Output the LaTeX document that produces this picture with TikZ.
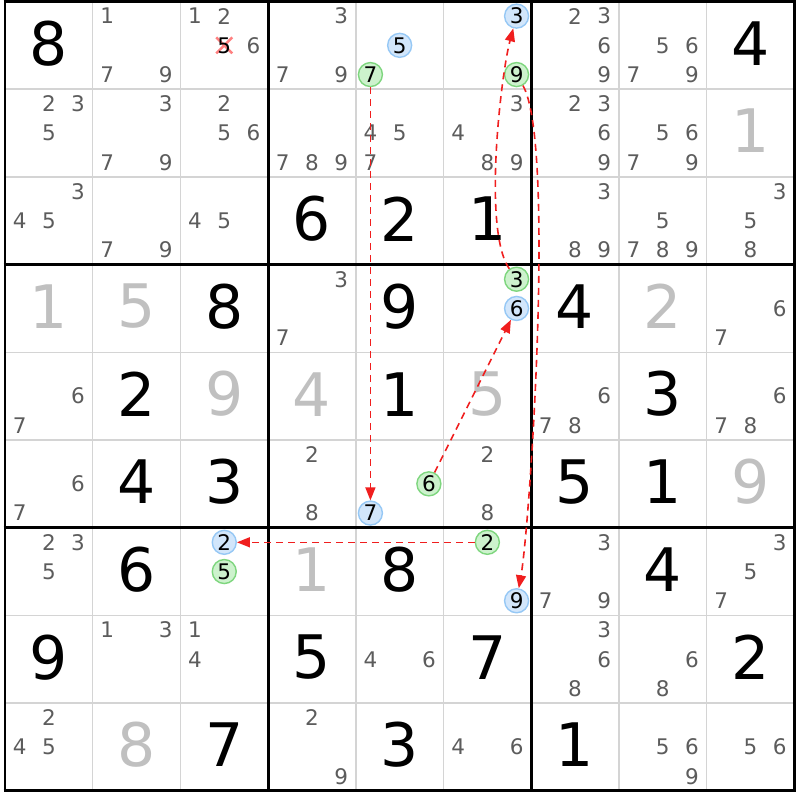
\documentclass[tikz,border=0pt]{standalone}
\usepackage{fontspec}
\setmainfont{DejaVu Sans}
\usetikzlibrary{arrows.meta}
\definecolor{pmgray}{HTML}{5C5C5C}
\definecolor{solvgray}{HTML}{C0C0C0}
\definecolor{thingrid}{HTML}{D4D4D4}
\definecolor{bluefill}{HTML}{D2E6FB}
\definecolor{blueline}{HTML}{96C8F5}
\definecolor{greenfill}{HTML}{CDF2CD}
\definecolor{greenline}{HTML}{7ED67E}
\definecolor{linkred}{HTML}{F01E1E}
\definecolor{xpink}{HTML}{FF8080}
\tikzset{
  givenstyle/.style={inner sep=0pt, text=black, font=\fontsize{60}{62}\selectfont},
  solvedstyle/.style={inner sep=0pt, text=solvgray, font=\fontsize{60}{62}\selectfont},
  pmstyle/.style={inner sep=0pt, text=pmgray, font=\fontsize{21.5}{24}\selectfont},
  bluecand/.style={circle, minimum size=24pt, inner sep=0pt, draw=blueline, fill=bluefill, line width=1.4pt, text=black, font=\fontsize{21.5}{24}\selectfont},
  greencand/.style={circle, minimum size=24pt, inner sep=0pt, draw=greenline, fill=greenfill, line width=1.4pt, text=black, font=\fontsize{21.5}{24}\selectfont},
  linkstyle/.style={draw=linkred, line width=1.6pt, dash pattern=on 7pt off 5pt, -{Triangle[length=13pt,width=10pt]}},
  thinline/.style={draw=thingrid, line width=1.4pt},
  thickline/.style={draw=black, line width=2.8pt},
  xstyle/.style={draw=xpink, line width=2.4pt}
}
\newcommand{\gv}[3]{\node[givenstyle] (g#1#2) at ({5+(#2-0.5)*87.7},{798.5-(#1-0.5)*87.7+2}) {#3};}
\newcommand{\sv}[3]{\node[solvedstyle] (s#1#2) at ({5+(#2-0.5)*87.7},{798.5-(#1-0.5)*87.7+2}) {#3};}
\newcommand{\pmk}[3]{\foreach \d in {#3}{\node[pmstyle] (p#1#2\d) at ({5+(#2-1)*87.7+(2*mod(\d-1,3)+1)*87.7/6},{798.5-(#1-1)*87.7-(2*floor((\d-1)/3)+1)*87.7/6}) {\d};}}
\newcommand{\cand}[5]{\node[#4] (#5) at ({5+(#2-1)*87.7+(2*mod(#3-1,3)+1)*87.7/6},{798.5-(#1-1)*87.7-(2*floor((#3-1)/3)+1)*87.7/6}) {#3};}
\begin{document}
\begin{tikzpicture}[x=1pt,y=1pt]
\useasboundingbox (0,0) rectangle (800,800);
\fill[white] (0,0) rectangle (800,800);
% grid
\foreach \i in {1,2,4,5,7,8}{
  \draw[thinline] ({5+\i*87.7},798.5) -- ({5+\i*87.7},{798.5-9*87.7});
  \draw[thinline] (5,{798.5-\i*87.7}) -- ({5+9*87.7},{798.5-\i*87.7});
}
\foreach \i in {0,3,6,9}{
  \draw[thickline] ({5+\i*87.7},{798.5+1.4}) -- ({5+\i*87.7},{798.5-9*87.7-1.4});
  \draw[thickline] ({5-1.4},{798.5-\i*87.7}) -- ({5+9*87.7+1.4},{798.5-\i*87.7});
}
% row 1
\gv{1}{1}{8} \pmk{1}{2}{1,7,9} \pmk{1}{3}{1,2,6}
\coordinate (x135) at ({5+2*87.7+43.85},{798.5-43.85});
\draw[xstyle] ([shift={(-8,-8)}]x135) -- ([shift={(8,8)}]x135);
\draw[xstyle] ([shift={(-8,8)}]x135) -- ([shift={(8,-8)}]x135);
\node[pmstyle, text=black] (p135) at (x135) {5};
\pmk{1}{4}{3,7,9}
\cand{1}{5}{5}{bluecand}{b155} \cand{1}{5}{7}{greencand}{g157}
\cand{1}{6}{3}{bluecand}{b163} \cand{1}{6}{9}{greencand}{g169}
\pmk{1}{7}{2,3,6,9} \pmk{1}{8}{5,6,7,9} \gv{1}{9}{4}
% row 2
\pmk{2}{1}{2,3,5} \pmk{2}{2}{3,7,9} \pmk{2}{3}{2,5,6} \pmk{2}{4}{7,8,9} \pmk{2}{5}{4,5,7}
\pmk{2}{6}{3,4,8,9} \pmk{2}{7}{2,3,6,9} \pmk{2}{8}{5,6,7,9} \sv{2}{9}{1}
% row 3
\pmk{3}{1}{3,4,5} \pmk{3}{2}{7,9} \pmk{3}{3}{4,5} \gv{3}{4}{6} \gv{3}{5}{2} \gv{3}{6}{1}
\pmk{3}{7}{3,8,9} \pmk{3}{8}{5,7,8,9} \pmk{3}{9}{3,5,8}
% row 4
\sv{4}{1}{1} \sv{4}{2}{5} \gv{4}{3}{8} \pmk{4}{4}{3,7} \gv{4}{5}{9}
\cand{4}{6}{3}{greencand}{g463} \cand{4}{6}{6}{bluecand}{b466}
\gv{4}{7}{4} \sv{4}{8}{2} \pmk{4}{9}{6,7}
% row 5
\pmk{5}{1}{6,7} \gv{5}{2}{2} \sv{5}{3}{9} \sv{5}{4}{4} \gv{5}{5}{1} \sv{5}{6}{5}
\pmk{5}{7}{6,7,8} \gv{5}{8}{3} \pmk{5}{9}{6,7,8}
% row 6
\pmk{6}{1}{6,7} \gv{6}{2}{4} \gv{6}{3}{3} \pmk{6}{4}{2,8}
\cand{6}{5}{6}{greencand}{g656} \cand{6}{5}{7}{bluecand}{b657}
\pmk{6}{6}{2,8} \gv{6}{7}{5} \gv{6}{8}{1} \sv{6}{9}{9}
% row 7
\pmk{7}{1}{2,3,5} \gv{7}{2}{6}
\cand{7}{3}{2}{bluecand}{b732} \cand{7}{3}{5}{greencand}{g735}
\sv{7}{4}{1} \gv{7}{5}{8}
\cand{7}{6}{2}{greencand}{g762} \cand{7}{6}{9}{bluecand}{b769}
\pmk{7}{7}{3,7,9} \gv{7}{8}{4} \pmk{7}{9}{3,5,7}
% row 8
\gv{8}{1}{9} \pmk{8}{2}{1,3} \pmk{8}{3}{1,4} \gv{8}{4}{5} \pmk{8}{5}{4,6} \gv{8}{6}{7}
\pmk{8}{7}{3,6,8} \pmk{8}{8}{6,8} \gv{8}{9}{2}
% row 9
\pmk{9}{1}{2,4,5} \sv{9}{2}{8} \gv{9}{3}{7} \pmk{9}{4}{2,9} \gv{9}{5}{3} \pmk{9}{6}{4,6}
\gv{9}{7}{1} \pmk{9}{8}{5,6,9} \pmk{9}{9}{5,6}
% links
\draw[linkstyle] (g463) to[out=125,in=-105,looseness=0.5] (b163);
\draw[linkstyle] (g169) to[out=-60,in=80,looseness=0.33] (b769);
\draw[linkstyle] (g157) -- (b657);
\draw[linkstyle] (g656) -- (b466);
\draw[linkstyle] (g762) -- (b732);
\end{tikzpicture}
\end{document}
